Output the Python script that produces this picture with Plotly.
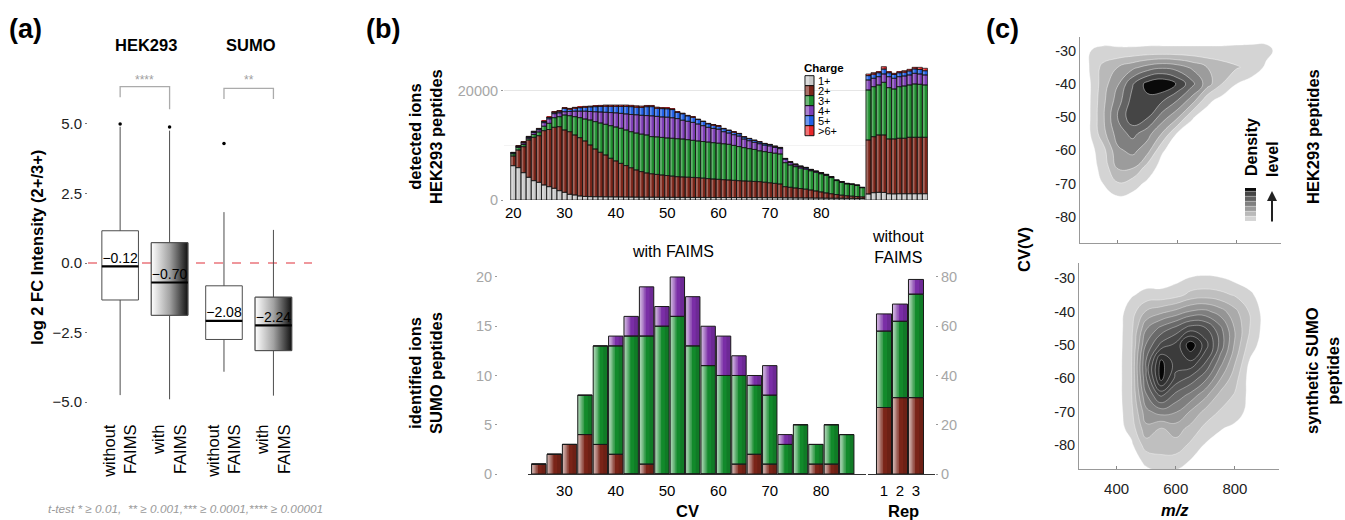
import numpy as np
import plotly.graph_objects as go

W, H = 1345, 520
FONT = "Liberation Sans, Arial, Helvetica, sans-serif"


def px(x):
    return x / W


def py(y):
    return 1 - y / H


# ---------------- (a) box plot data ----------------
box_labels = ["without<br>FAIMS", "with<br>FAIMS", "without<br>FAIMS", "with<br>FAIMS"]
box_pos = [1.0, 2.0, 3.1, 4.1]
box_q1 = [-1.33, -1.88, -2.75, -3.15]
box_median = [-0.12, -0.70, -2.08, -2.24]
box_q3 = [1.16, 0.73, -0.82, -1.23]
box_low = [-4.75, -4.90, -3.91, -4.77]
box_high = [4.90, 4.76, 1.83, 1.19]
box_outliers = [[5.0], [4.89], [4.30], []]
box_gradient = [False, True, False, True]

# ---------------- (b) top: detected ions HEK293 ----------------
cv_top = list(range(20, 89))
ions_1 = [6280, 5920, 5000, 4150, 3540, 3230, 2750, 2440, 2140, 1710, 1400, 1040, 915, 730, 650, 620, 600,
          590, 580, 570, 560, 550, 540, 530, 520, 515, 510, 505, 500, 495, 490, 485, 480, 478, 475, 472,
          470, 468, 465, 462, 460, 458, 455, 452, 450, 448, 445, 442, 440, 435, 430, 425, 420, 410, 400,
          390, 380, 370, 360, 350, 340, 330, 320, 315, 310, 305, 300, 295, 290]
cum_2 = [8050, 9150, 9760, 10980, 11470, 11770, 12690, 12900, 13300, 13420, 12810, 12500, 11900, 11410,
         10800, 10070, 9330, 8730, 8240, 7630, 7150, 6700, 6300, 5900, 5500, 5200, 4950, 4800, 4680, 4575,
         4480, 4370, 4270, 4220, 4170, 4130, 4090, 4000, 3920, 3840, 3780, 3720, 3660, 3600, 3540, 3480,
         3440, 3400, 3360, 3250, 3150, 3040, 2930, 2440, 2320, 2200, 2100, 1980, 1830, 1650, 1480, 1300,
         1150, 1000, 880, 780, 700, 640, 580]
cum_3 = [8450, 9600, 10150, 11300, 12000, 12450, 13500, 14030, 15060, 15250, 15550, 15430, 15250, 15070,
         14820, 14640, 14340, 14090, 13850, 13600, 13360, 13120, 12810, 12500, 12250, 12050, 11900, 11600,
         11550, 11450, 11350, 11290, 11220, 11160, 11040, 10920, 10800, 10700, 10600, 10490, 10390, 10290,
         10190, 9990, 9780, 9580, 9400, 9250, 9000, 8850, 8700, 8560, 8420, 6830, 6400, 6100, 5850, 5650,
         5350, 5080, 4800, 4500, 4100, 3550, 3250, 2950, 2830, 2650, 2250]
cum_4 = [8600, 9780, 10450, 11480, 12350, 12850, 14150, 14850, 15800, 15950, 16160, 16200, 16250, 16250,
         16250, 16200, 16150, 16100, 16050, 16000, 15950, 15850, 15750, 15650, 15600, 15500, 15450, 15400,
         15300, 15200, 15150, 15050, 14900, 14600, 14400, 14200, 13900, 13600, 13300, 13100, 12950, 12500,
         12250, 11950, 11700, 11150, 10850, 10550, 10300, 10050, 9900, 9620, 9400, 7450, 6850, 6420, 6080,
         5850, 5500, 5220, 4920, 4620, 4200, 3610, 3310, 3010, 2890, 2705, 2285]
ions_5 = [70, 100, 150, 100, 170, 180, 210, 240, 260, 300, 620, 450, 580, 630, 740, 840, 930, 1020, 1120,
          1160, 1200, 1290, 1390, 1430, 1400, 1460, 1620, 1680, 1500, 1520, 1540, 1500, 1135, 1180, 990,
          950, 823, 767, 640, 620, 573, 535, 490, 480, 430, 380, 375, 370, 315, 260, 237, 212, 188, 145,
          135, 138, 117, 103, 87, 67, 62, 57, 50, 35, 30, 25, 23, 25, 20]
ions_6 = [60, 60, 70, 70, 80, 80, 100, 100, 100, 100, 120, 120, 130, 140, 150, 160, 180, 200, 220, 230,
          240, 250, 250, 250, 250, 240, 230, 220, 200, 180, 160, 150, 130, 120, 110, 100, 100, 90, 90, 80,
          80, 80, 70, 70, 70, 60, 60, 60, 60, 60, 50, 50, 50, 30, 30, 30, 25, 25, 25, 20, 20, 20, 20, 15,
          15, 15, 15, 15, 13]
# without FAIMS runs (12 bars at the right)
wo_1 = [1100, 1340, 1400, 1380, 1150, 1120, 1150, 1150, 1150, 1150, 1150, 1150]
wo_cum_2 = [10980, 11590, 11900, 11900, 11170, 11170, 11290, 11290, 11470, 11470, 11470, 11470]
wo_cum_3 = [20130, 20740, 21050, 21530, 20560, 20310, 20740, 20860, 21050, 21230, 21170, 21050]
wo_cum_4 = [21960, 22270, 22570, 23060, 22570, 22270, 22570, 22690, 22880, 23180, 23060, 22880]
wo_5 = [800, 785, 710, 890, 710, 715, 710, 730, 735, 800, 820, 775]
wo_6 = [300, 250, 200, 450, 200, 200, 200, 250, 300, 300, 400, 450]

charge_names = ["1+", "2+", "3+", "4+", "5+", ">6+"]
charge_colors = ["#c9c9c9", "#7b2519", "#1f8f2f", "#7d3db5", "#2060e6", "#e8272a"]

# ---------------- (b) bottom: identified SUMO ions ----------------
sumo_cv = [25, 28, 31, 34, 37, 40, 43, 46, 49, 52, 55, 58, 61, 64, 67, 70, 73, 76, 79, 82, 85]
sumo_2 = [1, 2, 3, 4, 3, 2, 0, 1, 0, 0, 0, 0, 0, 1, 2, 1, 0, 0, 1, 1, 0]
sumo_3 = [0, 0, 0, 4, 10, 11, 14, 13, 15, 16, 13, 11, 10, 9, 7, 7, 3, 5, 2, 4, 4]
sumo_4 = [0, 0, 0, 0, 0, 1, 2, 5, 2, 4, 5, 4, 4, 2, 1, 3, 1, 0, 0, 0, 0]
rep = [1, 2, 3]
rep_2 = [27, 31, 31]
rep_3 = [31, 31, 42]
rep_4 = [7, 7, 6]
sumo_colors = ["#7a2418", "#128a2b", "#7a2ea6"]

# ---------------- (c) density contours (levels) ----------------
hek_mz = [300, 350, 400, 450, 500, 550, 600, 650, 700, 750, 800, 850, 900, 950]
hek_cv = [-85, -80, -75, -70, -65, -60, -55, -50, -45, -40, -35, -30, -25]
hek_density = [
    [0, 0, 0, 0, 0, 0, 0, 0, 0, 0, 0, 0, 0, 0],
    [0, 0, 0, 0, 0, 0, 0, 0, 0, 0, 0, 0, 0, 0],
    [0, 0, 0.2, 0.1, 0, 0, 0, 0, 0, 0, 0, 0, 0, 0],
    [0, 0.5, 1.4, 0.9, 0.3, 0, 0, 0, 0, 0, 0, 0, 0, 0],
    [0, 0.8, 2.7, 2.7, 1.1, 0.1, 0, 0, 0, 0, 0, 0, 0, 0],
    [0, 1.1, 3.3, 3.8, 2.9, 0.6, 0, 0, 0, 0, 0, 0, 0, 0],
    [0.2, 2.1, 4.0, 4.8, 3.9, 2.4, 0.4, 0, 0, 0, 0, 0, 0, 0],
    [0.2, 2.3, 4.6, 6.2, 5.6, 4.0, 2.7, 0.6, 0, 0, 0, 0, 0, 0],
    [0.2, 2.2, 4.0, 5.9, 6.2, 5.6, 4.5, 3.0, 0.8, 0.1, 0, 0, 0, 0],
    [0.2, 2.0, 3.4, 5.4, 6.9, 7.4, 6.4, 4.8, 3.0, 1.5, 0.5, 0, 0, 0],
    [0.4, 1.8, 2.5, 3.2, 3.9, 4.3, 4.0, 3.3, 2.5, 2.0, 1.6, 1.2, 0.3, 0],
    [0.45, 0.7, 0.65, 0.65, 0.7, 0.7, 0.7, 0.7, 0.7, 0.7, 0.75, 0.8, 0.8, 0.1],
    [0, 0, 0, 0, 0, 0, 0, 0, 0, 0, 0, 0, 0, 0],
]
sumo_mz = [400, 450, 500, 550, 600, 650, 700, 750, 800, 850, 900]
sumo_cvv = [-90, -85, -80, -75, -70, -65, -60, -55, -50, -45, -40, -35, -30, -25]
sumo_density = [
    [0, 0, 0, 0, 0, 0, 0, 0, 0, 0, 0],
    [0, 0, 0.7, 1.2, 1.0, 0.4, 0, 0, 0, 0, 0],
    [0, 0.3, 2.0, 1.9, 2.1, 1.3, 0.4, 0, 0, 0, 0],
    [0, 0.9, 3.2, 2.4, 3.0, 2.2, 1.2, 0.6, 0.2, 0, 0],
    [0, 1.2, 4.2, 5.0, 4.6, 3.4, 2.2, 1.4, 1.1, 0.1, 0],
    [0, 1.4, 5.4, 7.8, 6.2, 5.2, 3.8, 2.2, 1.4, 0.2, 0],
    [0, 1.4, 6.4, 10.9, 8.2, 7.2, 5.8, 3.6, 1.9, 0.1, 0],
    [0, 1.4, 6.6, 10.8, 9.0, 9.4, 7.6, 5.0, 2.6, 0.4, 0],
    [0, 1.3, 5.6, 7.8, 8.8, 11.2, 9.0, 6.2, 3.3, 1.0, 0],
    [0, 1.2, 4.4, 5.8, 6.8, 8.0, 7.6, 5.8, 3.4, 1.5, 0.1],
    [0, 1.0, 2.6, 3.2, 3.8, 4.6, 4.8, 4.0, 2.8, 1.4, 0.1],
    [0, 0.4, 0.8, 0.8, 1.1, 1.8, 2.0, 1.8, 1.4, 0.7, 0],
    [0, 0, 0, 0, 0.2, 0.55, 0.6, 0.55, 0.2, 0, 0],
    [0, 0, 0, 0, 0, 0, 0, 0, 0, 0, 0],
]
hek_grays = ["#ffffff", "#d4d4d4", "#b9b9b9", "#9c9c9c", "#808080", "#636363", "#454545", "#0a0a0a"]
sumo_grays = ["#ffffff", "#d3d3d3", "#bfbfbf", "#aaaaaa", "#959595", "#7f7f7f", "#6a6a6a", "#575757",
              "#474747", "#3b3b3b", "#2f2f2f", "#050505"]

fig = go.Figure()
NOHOVER = dict(hoverinfo="skip", showlegend=False)

# ================= (a) =================
BOX_W = 0.74
for i in range(len(box_pos)):
    p = box_pos[i]
    hw = BOX_W / 2
    fig.add_trace(go.Box(
        x=[p], q1=[box_q1[i]], median=[box_median[i]], q3=[box_q3[i]],
        lowerfence=[box_low[i]], upperfence=[box_high[i]], width=BOX_W, whiskerwidth=0,
        fillcolor="white", line=dict(color="#4d4d4d", width=1), boxpoints=False,
        xaxis="x", yaxis="y", **NOHOVER))
    if box_gradient[i]:
        fig.add_trace(go.Scatter(
            x=[p - hw, p + hw, p + hw, p - hw, p - hw],
            y=[box_q1[i], box_q1[i], box_q3[i], box_q3[i], box_q1[i]],
            fill="toself", mode="lines",
            fillgradient=dict(type="horizontal",
                              colorscale=[[0, "#ffffff"], [0.5, "#a3a3a3"], [1, "#121212"]]),
            line=dict(color="#4d4d4d", width=1), xaxis="x", yaxis="y", **NOHOVER))
    fig.add_trace(go.Scatter(x=[p - hw, p + hw], y=[box_median[i]] * 2, mode="lines",
                             line=dict(color="black", width=2.2), xaxis="x", yaxis="y", **NOHOVER))
    fig.add_trace(go.Scatter(x=[p], y=[box_median[i]], mode="text",
                             text=[f"{box_median[i]:.2f}".replace("-", "\u2212")],
                             textposition="top center",
                             textfont=dict(family=FONT, size=14, color="black"),
                             xaxis="x", yaxis="y", **NOHOVER))
    if box_outliers[i]:
        fig.add_trace(go.Scatter(x=[p] * len(box_outliers[i]), y=box_outliers[i], mode="markers",
                                 marker=dict(color="black", size=3.5), xaxis="x", yaxis="y", **NOHOVER))

# ================= (b) top =================
n_wo = len(wo_1)
x_top = np.array(cv_top + [cv_top[-1] + 1.2 + k for k in range(n_wo)], dtype=float)
c1 = np.array(ions_1 + wo_1, dtype=float)
c2 = np.array(cum_2 + wo_cum_2, dtype=float)
c3 = np.array(cum_3 + wo_cum_3, dtype=float)
c4 = np.array(cum_4 + wo_cum_4, dtype=float)
s5 = np.array(ions_5 + wo_5, dtype=float)
s6 = np.array(ions_6 + wo_6, dtype=float)
segs = [c1, c2 - c1, c3 - c2, c4 - c3, s5, s6]
bases = [np.zeros_like(c1), c1, c2, c3, c4, c4 + s5]
total_top = c4 + s5 + s6

for seg, base, col, name in zip(segs, bases, charge_colors, charge_names):
    fig.add_trace(go.Bar(x=x_top, y=seg, base=base, width=1.0, offset=-0.5, name=name,
                         marker=dict(color=col, line=dict(width=0)),
                         xaxis="x2", yaxis="y2", **NOHOVER))
fig.add_trace(go.Bar(x=x_top, y=total_top, base=0, width=0.42, offset=-0.46,
                     marker=dict(color="rgba(255,255,255,0.30)", line=dict(width=0)),
                     xaxis="x2", yaxis="y2", **NOHOVER))
for seg, base in zip(segs, bases):
    fig.add_trace(go.Bar(x=x_top, y=seg, base=base, width=1.0, offset=-0.5,
                         marker=dict(color="rgba(0,0,0,0)", line=dict(width=0.7, color="#111111")),
                         xaxis="x2", yaxis="y2", **NOHOVER))


# ================= (b) bottom =================
def stacked_gradient_bars(xs, seg_list, colors, width, xa, ya):
    xs = np.array(xs, dtype=float)
    segs_ = [np.array(s, dtype=float) for s in seg_list]
    bases_ = [np.zeros_like(segs_[0])]
    for s in segs_[:-1]:
        bases_.append(bases_[-1] + s)
    tot = bases_[-1] + segs_[-1]
    for s, b, c in zip(segs_, bases_, colors):
        fig.add_trace(go.Bar(x=xs, y=s, base=b, width=width, offset=-width / 2,
                             marker=dict(color=c, line=dict(width=0)), xaxis=xa, yaxis=ya, **NOHOVER))
    for frac in [0.08, 0.16, 0.24, 0.33, 0.44]:
        fig.add_trace(go.Bar(x=xs, y=tot, base=0, width=width * frac, offset=-width / 2,
                             marker=dict(color="rgba(255,255,255,0.19)", line=dict(width=0)),
                             xaxis=xa, yaxis=ya, **NOHOVER))
    fig.add_trace(go.Bar(x=xs, y=tot, base=0, width=width * 0.3, offset=width / 2 - width * 0.3,
                         marker=dict(color="rgba(0,0,0,0.10)", line=dict(width=0)),
                         xaxis=xa, yaxis=ya, **NOHOVER))
    for s, b in zip(segs_, bases_):
        fig.add_trace(go.Bar(x=xs, y=s, base=b, width=width, offset=-width / 2,
                             marker=dict(color="rgba(0,0,0,0)", line=dict(width=1, color="#1a1a1a")),
                             xaxis=xa, yaxis=ya, **NOHOVER))


stacked_gradient_bars(sumo_cv, [sumo_2, sumo_3, sumo_4], sumo_colors, 2.8, "x3", "y3")
stacked_gradient_bars(rep, [rep_2, rep_3, rep_4], sumo_colors, 0.94, "x4", "y4")

# ================= (c) =================
fig.add_trace(go.Contour(
    x=hek_mz, y=hek_cv, z=hek_density,
    contours=dict(start=0.5, end=6.5, size=1, coloring="fill"),
    colorscale=[[k / (len(hek_grays) - 1), c] for k, c in enumerate(hek_grays)],
    line=dict(color="rgba(255,255,255,0.6)", width=0.7, smoothing=1.3),
    showscale=True,
    colorbar=dict(x=px(1245), xanchor="left", y=py(206), yanchor="middle", len=35, lenmode="pixels",
                  thickness=11, thicknessmode="pixels", showticklabels=False, ticks="",
                  outlinewidth=0, xpad=0, ypad=0),
    xaxis="x5", yaxis="y5", hoverinfo="skip"))
fig.add_trace(go.Contour(
    x=sumo_mz, y=sumo_cvv, z=sumo_density,
    contours=dict(start=0.5, end=10.5, size=1, coloring="fill"),
    colorscale=[[k / (len(sumo_grays) - 1), c] for k, c in enumerate(sumo_grays)],
    line=dict(color="rgba(255,255,255,0.5)", width=0.7, smoothing=1.3),
    showscale=False, xaxis="x6", yaxis="y6", hoverinfo="skip"))

# ================= layout =================
ax_common = dict(showgrid=False, zeroline=False, showline=False)
tick_gray = dict(family=FONT, size=14.5, color="#a6a6a6")
tick_black = dict(family=FONT, size=15, color="black")

cv_ticks = [-80, -70, -60, -50, -40, -30]
cv_ticktext = [str(v) for v in cv_ticks]

fig.update_layout(
    width=W, height=H, margin=dict(l=0, r=0, t=0, b=0),
    paper_bgcolor="white", plot_bgcolor="white", template="none",
    font=dict(family=FONT, color="black"),
    showlegend=False, barmode="overlay", boxmode="overlay",
    # (a)
    xaxis=dict(domain=[px(88), px(312)], range=[0.35, 4.88], tickvals=box_pos, ticktext=box_labels,
               tickangle=-90, tickfont=dict(family=FONT, size=16.5, color="black"),
               ticks="outside", ticklen=8, tickcolor="rgba(0,0,0,0)",
               anchor="y", **ax_common),
    yaxis=dict(domain=[py(409), py(76.7)], range=[-5.25, 6.7], tickvals=[-5, -2.5, 0, 2.5, 5],
               tickformat=".1f", ticks="outside", ticklen=2, tickcolor="#777",
               tickfont=dict(family=FONT, size=15, color="#222"), anchor="x", **ax_common),
    # (b) top
    xaxis2=dict(domain=[px(504), px(928)], range=[18.2, 100.8], tickvals=[20, 30, 40, 50, 60, 70, 80],
                ticks="", tickfont=tick_black, anchor="y2", ticklabelstandoff=2,
                showgrid=False, zeroline=False, showline=False),
    yaxis2=dict(domain=[py(200), py(60)], range=[0, 25620], tickvals=[0, 20000], ticktext=["0", "20000"],
                ticks="outside", ticklen=2, tickcolor="#999", tickfont=tick_gray, anchor="x2",
                showgrid=True, gridcolor="#e6e6e6", gridwidth=1, zeroline=False, showline=False,
                minor=dict(tickvals=[10000], showgrid=True, gridcolor="#f3f3f3", ticks="")),
    # (b) bottom CV
    xaxis3=dict(domain=[px(528), px(866)], range=[22.9, 88.75], tickvals=[30, 40, 50, 60, 70, 80],
                ticks="", tickfont=tick_black, anchor="y3", ticklabelstandoff=3,
                showgrid=False, zeroline=False, showline=True, linecolor="#333", linewidth=1),
    yaxis3=dict(domain=[py(474), py(262)], range=[0, 21.52], tickvals=[0, 5, 10, 15, 20],
                ticks="outside", ticklen=2, tickcolor="#999", tickfont=tick_gray,
                anchor="free", position=px(497), **ax_common),
    # (b) bottom Rep
    xaxis4=dict(domain=[px(868), px(935)], range=[0, 4.19], tickvals=[1, 2, 3], ticks="",
                tickfont=tick_black, anchor="y4", ticklabelstandoff=3,
                showgrid=False, zeroline=False, showline=True, linecolor="#333", linewidth=1),
    yaxis4=dict(domain=[py(474), py(262)], range=[0, 86.08], tickvals=[0, 20, 40, 60, 80], side="right",
                ticks="outside", ticklen=2, tickcolor="#999", tickfont=tick_gray, anchor="x4",
                **ax_common),
    # (c) top
    xaxis5=dict(domain=[px(1080), px(1281)], range=[273, 949], tickvals=[400, 600, 800],
                showticklabels=False, ticks="inside", ticklen=3, tickcolor="#888", anchor="y5",
                showgrid=False, zeroline=False, showline=True, linecolor="#999", linewidth=1),
    yaxis5=dict(domain=[py(242.7), py(36.7)], range=[-87.8, -25.8], tickvals=cv_ticks,
                ticktext=cv_ticktext, ticks="", tickfont=dict(family=FONT, size=14.5, color="#222"),
                anchor="x5", showgrid=False, zeroline=False, showline=True, linecolor="#999",
                linewidth=1),
    # (c) bottom
    xaxis6=dict(domain=[px(1079), px(1279)], range=[273, 949], tickvals=[400, 600, 800],
                ticks="inside", ticklen=3, tickcolor="#888", anchor="y6", ticklabelstandoff=6,
                tickfont=dict(family=FONT, size=15, color="#222"),
                showgrid=False, zeroline=False, showline=True, linecolor="#999", linewidth=1),
    yaxis6=dict(domain=[py(469.3), py(263.3)], range=[-87.3, -25.5], tickvals=cv_ticks,
                ticktext=cv_ticktext, ticks="", tickfont=dict(family=FONT, size=14.5, color="#222"),
                anchor="x6", showgrid=False, zeroline=False, showline=True, linecolor="#999",
                linewidth=1),
)

shapes = []
# zero line (a)
shapes.append(dict(type="line", xref="x", yref="y", x0=0.35, x1=4.88, y0=0, y1=0,
                   line=dict(color="#e0303a", width=1.2, dash="dash"), layer="below"))
# significance brackets (a)
shapes.append(dict(type="path", xref="x", yref="y",
                   path=f"M {box_pos[0]},5.96 L {box_pos[0]},6.34 L {box_pos[1]},6.34 L {box_pos[1]},5.53",
                   line=dict(color="#ababab", width=1.3)))
shapes.append(dict(type="path", xref="x", yref="y",
                   path=f"M {box_pos[2]},5.9 L {box_pos[2]},6.28 L {box_pos[3]},6.28 L {box_pos[3]},5.9",
                   line=dict(color="#ababab", width=1.3)))
# manual Charge legend swatches
for k, (name, col) in enumerate(zip(charge_names, charge_colors)):
    y0 = 75.7 + 10 * k
    shapes.append(dict(type="rect", xref="paper", yref="paper", x0=px(805), x1=px(814),
                       y0=py(y0 + 10), y1=py(y0), fillcolor=col, line=dict(color="#111", width=1)))
    shapes.append(dict(type="rect", xref="paper", yref="paper", x0=px(805.5), x1=px(809),
                       y0=py(y0 + 9.5), y1=py(y0 + 0.5), fillcolor="rgba(255,255,255,0.35)",
                       line=dict(width=0)))
fig.update_layout(shapes=shapes)


def ann(text, x, y, size=16, color="black", angle=0, xanchor="center", yanchor="middle"):
    return dict(text=text, x=px(x), y=py(y), xref="paper", yref="paper", showarrow=False,
                font=dict(family=FONT, size=size, color=color), textangle=angle,
                xanchor=xanchor, yanchor=yanchor)


annotations = [
    ann("<b>(a)</b>", 7, 29, size=27, xanchor="left"),
    ann("<b>(b)</b>", 364, 29, size=27, xanchor="left"),
    ann("<b>(c)</b>", 984, 29, size=27, xanchor="left"),
    ann("<b>HEK293</b>", 146, 45, size=16.5),
    ann("<b>SUMO</b>", 251, 45, size=16.5),
    dict(text="****", x=(box_pos[0] + box_pos[1]) / 2, y=6.58, xref="x", yref="y", showarrow=False,
         font=dict(family=FONT, size=12, color="#a0a0a0")),
    dict(text="**", x=(box_pos[2] + box_pos[3]) / 2, y=6.58, xref="x", yref="y", showarrow=False,
         font=dict(family=FONT, size=12, color="#a0a0a0")),
    ann("<b>log 2 FC Intensity (2+/3+)</b>", 37, 248, size=16.5, angle=-90),
    ann("<i>t-test * \u2265 0.01,  ** \u2265 0.001,*** \u2265 0.0001,**** \u2265 0.00001</i>", 185, 509,
        size=11.8, color="#9a9a9a"),
    ann("<b>detected ions<br>HEK293 peptides</b>", 426, 137, size=16.5, angle=-90),
    ann("with FAIMS", 673, 251, size=16),
    ann("without<br>FAIMS", 898, 247, size=16),
    ann("<b>identified ions<br>SUMO peptides</b>", 425, 373, size=16.5, angle=-90),
    ann("<b>CV</b>", 687, 511, size=16.5),
    ann("<b>Rep</b>", 903, 511, size=16.5),
    ann("<b>Charge</b>", 824, 68.5, size=11.5),
    ann("<b>CV(V)</b>", 1024, 250, size=16.5, angle=-90),
    ann("<b><i>m/z</i></b>", 1175, 510, size=16.5),
    ann("<b>HEK293 peptides</b>", 1313, 137, size=16.5, angle=-90),
    ann("<b>synthetic SUMO<br>peptides</b>", 1322, 371, size=16.5, angle=-90),
    ann("<b>Density</b>", 1251, 147, size=16, angle=-90),
    ann("<b>level</b>", 1272, 159, size=16, angle=-90),
    dict(text="", x=px(1272), y=py(191), xref="paper", yref="paper", showarrow=True, ax=0, ay=32,
         arrowhead=2, arrowsize=1, arrowwidth=2, arrowcolor="#222"),
]
for k, name in enumerate(charge_names):
    annotations.append(ann(name, 816, 80.7 + 10 * k, size=11, xanchor="left"))
fig.update_layout(annotations=annotations)

fig.write_html("out.html", config={"displayModeBar": False},
               post_script="document.body.style.margin='0px';document.body.style.overflow='hidden';")
